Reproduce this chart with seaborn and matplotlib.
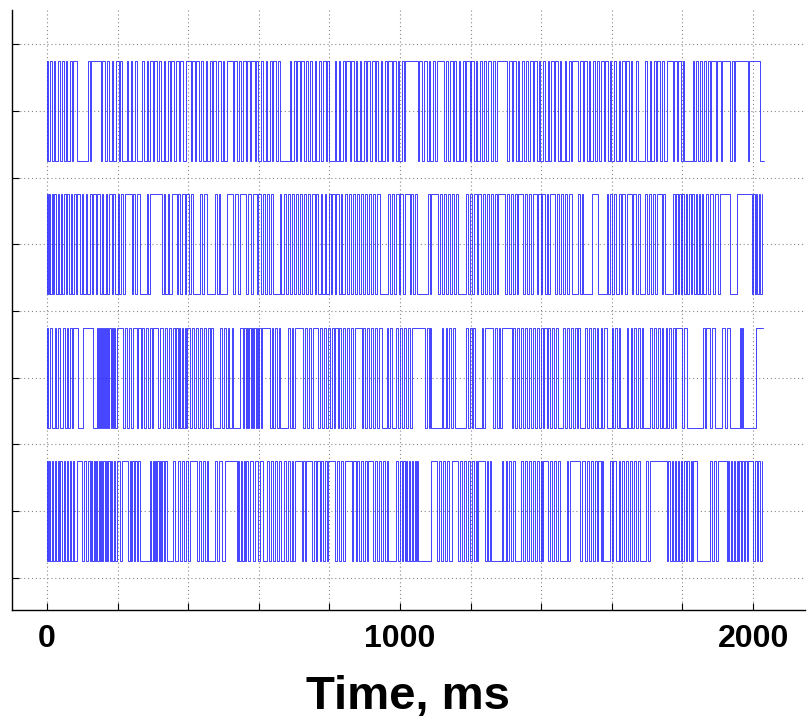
import matplotlib
matplotlib.use("Agg")
import matplotlib.pyplot as plt
import seaborn as sns
import pandas as pd

# transition times (ms) of the four binary traces, top to bottom
trace_1 = [0, 3, 9, 13, 21, 24, 30, 38, 42, 47, 55, 58, 66, 72, 75, 84,
           117, 121, 124,
           153, 156, 163, 171, 175, 184, 187, 196, 203, 206, 213, 226, 230, 238, 241, 249, 256, 270, 274,
           283, 286, 292, 301, 304, 313, 318, 322, 331, 335, 343, 349, 352, 361, 366, 374, 377, 386, 393,
           407, 410, 419, 423, 431, 435, 441, 450, 453, 462, 468, 471, 480, 484, 492, 498, 502, 511, 527,
           530, 538, 543, 550, 554, 563, 567, 575, 579, 588, 593, 597, 606, 611, 619, 622, 631, 637, 641,
           650, 653, 659,
           688, 691, 699, 705, 709, 717, 720, 729, 735, 738, 746, 751, 759, 763, 771, 776, 781, 789, 793, 799,
           815, 819, 827, 831, 839, 845, 848, 857, 861, 869, 874, 878, 886, 890, 898, 904, 907, 916, 920,
           928, 933, 937, 946, 950, 958, 963, 967, 976, 980, 988, 993, 997, 1006, 1010, 1014,
           1051, 1055, 1063, 1067, 1075, 1081, 1085, 1093, 1098, 1105,
           1125, 1129, 1137, 1141, 1149, 1154, 1158, 1167, 1171, 1179, 1184, 1188, 1197, 1201, 1209, 1214,
           1218, 1227, 1231, 1239, 1244, 1248, 1257, 1262, 1270, 1276,
           1304, 1308, 1316, 1320, 1328, 1333, 1337, 1346, 1350, 1358, 1363, 1367, 1376, 1380, 1388, 1393,
           1397, 1406, 1410, 1418, 1423, 1427, 1436, 1440, 1448, 1453, 1457, 1466, 1470, 1478, 1484, 1487,
           1505, 1509, 1517, 1521, 1529, 1534, 1538, 1547, 1551, 1559, 1564, 1568, 1577, 1581, 1589, 1594,
           1598, 1607, 1611, 1619, 1624, 1628, 1637, 1641, 1649, 1654, 1658, 1667, 1673,
           1695, 1699, 1707, 1711, 1719, 1724, 1728, 1737, 1741, 1749, 1755,
           1772, 1776, 1784, 1788, 1796, 1801, 1805,
           1830, 1833, 1839, 1843, 1850, 1854, 1861, 1866, 1872, 1877, 1880,
           1895, 1898, 1908, 1912,
           1935, 1939, 1945, 1948,
           1985, 1988,
           2020]

trace_2 = [0, 2, 6, 10, 13, 18, 21, 26, 30, 33, 39, 44, 47, 53, 58, 62, 68, 71, 77, 83, 86, 93, 99, 103,
           110, 114, 121, 127, 131, 138, 142, 149, 155, 159, 166, 171, 175, 183, 188, 192, 200, 205, 210,
           216, 221,
           240, 245, 249, 256, 263,
           282, 287, 292,
           325, 331, 335, 342, 347, 353,
           367, 372, 378, 383, 390, 395, 401, 407, 414,
           433, 438, 445, 452,
           476, 481, 486, 490, 509,
           528, 533, 540, 547,
           565, 570, 577, 584,
           594, 599, 606, 611, 617, 622, 629, 635, 641,
           660, 664, 671, 676, 682, 688, 693, 700, 705, 711, 717, 722, 729, 733, 740, 746, 751, 758, 762,
           769, 775, 780, 787, 791, 798, 804, 808, 816, 820, 827, 832, 837, 844, 849, 855, 861, 866, 872,
           877, 884, 890, 894, 901, 906, 912, 918, 923, 930, 936, 943,
           967, 972, 978, 984, 989, 996, 1001, 1008, 1014,
           1028, 1032, 1036, 1041, 1047,
           1080, 1085, 1089,
           1108, 1113, 1119, 1125, 1130, 1137, 1142, 1148, 1154, 1159, 1165,
           1188, 1193, 1199, 1205, 1210, 1217, 1222, 1228, 1234, 1240, 1245, 1251, 1257, 1262, 1269, 1274,
           1278,
           1297, 1302, 1308, 1313, 1319, 1325, 1330, 1335,
           1349, 1354, 1360, 1366, 1371, 1377,
           1387, 1392, 1398, 1403, 1410, 1415, 1420, 1425,
           1439, 1444, 1450, 1455, 1462, 1467, 1473, 1479, 1486,
           1505, 1510, 1515, 1519, 1543,
           1561, 1585, 1590, 1596, 1601, 1607, 1613, 1619, 1625, 1630, 1636, 1642,
           1656, 1661, 1667, 1673, 1680,
           1694, 1699, 1705, 1711, 1716, 1722, 1727,
           1741, 1746, 1750,
           1774, 1779, 1783, 1787, 1791, 1796, 1800, 1805, 1810, 1814, 1819, 1823, 1828, 1833, 1837, 1842,
           1846, 1851, 1855, 1859, 1866, 1872, 1879, 1886, 1893, 1900, 1906,
           1934, 1953, 1996, 2000, 2004, 2008, 2012, 2016, 2020, 2024]

trace_3 = [0, 4, 8, 13, 23, 27, 31, 37, 46, 52, 56, 61, 66, 70, 75, 89, 103, 131,
           141, 144, 147, 150, 153, 156, 159, 162, 165, 168, 171, 174, 177, 180, 184, 188, 191, 194, 197,
           216, 221, 227, 232, 238, 244, 254, 259, 265, 270, 276, 281, 287, 292, 297, 301,
           315, 321, 329, 334, 340, 345, 351, 358, 362, 366, 370, 374, 378, 382, 386, 390, 393, 396,
           405, 411, 416, 422, 428, 433, 439, 445, 450, 456, 461, 466, 471,
           490, 495, 501, 506, 512, 517, 523, 528, 547,
           556, 559, 563, 566, 570, 573, 577, 580, 584, 587, 591, 594, 598, 601, 605, 608,
           631, 636, 641, 647, 652, 656, 660,
           683, 688, 694, 698, 702,
           726, 731, 737, 742, 748, 754,
           768, 773, 779, 784, 790, 795, 801, 806, 812, 817, 823, 828, 834, 839, 845, 850, 856, 861, 867, 872,
           891, 896, 902, 907, 913, 918, 924, 929, 935, 940, 948,
           962, 967, 971, 976,
           990, 995, 1001, 1006, 1012, 1017, 1023, 1028, 1033,
           1070, 1075, 1081, 1085, 1089,
           1118, 1123, 1129, 1134, 1140, 1145, 1150, 1155,
           1188, 1193, 1199, 1204, 1208, 1212,
           1231, 1236, 1240,
           1264, 1269, 1274, 1279, 1284, 1288,
           1316, 1321, 1327, 1332, 1338, 1343, 1349, 1354, 1360, 1365, 1371, 1376, 1382, 1387, 1393, 1398,
           1404, 1409, 1415, 1420, 1426, 1431, 1437, 1442, 1448,
           1462, 1467, 1473, 1478, 1484, 1489, 1495, 1500, 1505, 1510,
           1524, 1529, 1535, 1540, 1546, 1551, 1557, 1562, 1568, 1573, 1579, 1585,
           1599, 1604, 1610, 1615, 1620, 1623,
           1642, 1647, 1653, 1658, 1664, 1669, 1675, 1680, 1685, 1689,
           1708, 1713, 1719, 1724, 1730, 1735, 1741, 1746, 1752, 1757, 1763, 1768, 1774, 1779, 1783,
           1798, 1805, 1812,
           1859, 1863, 1868, 1878, 1884, 1892,
           1911, 1920, 1927, 1934,
           1963, 1965, 1969, 1972,
           2008]

trace_4 = [0, 3, 7, 10, 15, 18, 23, 26, 31, 35, 38, 44, 47, 52, 56, 60, 65, 69, 73, 78, 84,
           98, 104, 110, 116, 122,
           125, 128, 132, 135, 139, 142, 146, 149, 153, 156, 160, 163, 167, 170, 174, 178, 181, 185, 189, 193,
           199, 206, 212,
           230, 234, 238, 242, 246, 250, 254, 258, 263,
           292, 295, 299, 302, 306, 309, 313, 316, 320, 323, 327, 331, 335, 339,
           358, 364, 370, 376, 382, 388, 394, 400, 405,
           424, 430, 436, 441, 447, 452, 457,
           476, 482, 488, 495, 504, 537,
           541, 545, 549, 553, 557, 561, 565, 570, 575,
           584, 590, 597, 603,
           611, 622, 628, 634, 640, 646, 652, 658, 664, 670, 676, 682, 688, 694, 698, 702,
           721, 726, 731, 735,
           750, 755, 761, 766, 772, 777, 783, 788, 793, 797,
           816, 821, 827, 832, 838, 844,
           863, 868, 874, 879, 885, 890, 896, 901, 906, 910,
           924, 929, 935, 940, 946, 951, 957, 962, 967,
           990, 995, 1000, 1005, 1009, 1013, 1017, 1021, 1025, 1029, 1033, 1037, 1041, 1045, 1049, 1052,
           1089, 1104, 1110, 1116, 1122, 1128, 1134, 1140, 1146,
           1165, 1170, 1176, 1181, 1187, 1192, 1198, 1203, 1209, 1214, 1218, 1221,
           1240, 1245, 1250, 1255, 1259,
           1288, 1293, 1299, 1304, 1310, 1315, 1320, 1325,
           1344, 1349, 1355, 1360, 1366, 1371, 1377, 1382, 1388, 1393, 1399, 1403, 1406,
           1420, 1425, 1431, 1436, 1442, 1447, 1453,
           1472, 1476, 1481,
           1510, 1514, 1524, 1529, 1535, 1540, 1546, 1551, 1557, 1562, 1568, 1572, 1576,
           1595, 1600, 1604, 1613, 1619, 1624, 1630, 1635, 1641, 1646, 1652, 1657, 1663, 1668, 1674, 1680,
           1698, 1703, 1708, 1755,
           1760, 1764, 1769, 1773, 1778, 1782, 1787, 1791, 1796, 1800, 1805, 1809, 1814, 1818, 1823, 1827, 1831,
           1840, 1878, 1884, 1890, 1896, 1901, 1925,
           1929, 1933, 1937, 1941, 1945, 1949, 1953, 1957, 1961, 1965, 1969, 1973, 1977, 1982,
           1986, 2000, 2005, 2010, 2015, 2020, 2024]

end_times = [2030, 2026, 2028, 2026]
tick_labels = {0: "0", 1000: "1000", 2000: "2000"}

sns.set_theme(style="white")
plt.rcParams["font.family"] = ["Liberation Sans", "DejaVu Sans"]
plt.rcParams["text.color"] = "black"
plt.rcParams["axes.labelcolor"] = "black"
plt.rcParams["xtick.color"] = "black"
plt.rcParams["ytick.color"] = "black"

fig = plt.figure(figsize=(8.07, 7.2), dpi=100)
ax = fig.add_axes([12 / 807, 110 / 720, 793 / 807, 600 / 720])

traces = [trace_1, trace_2, trace_3, trace_4]
for k, (times, t_end) in enumerate(zip(traces, end_times)):
    low = 1.25 + 2 * (3 - k)
    high = low + 1.5
    xs = [0]
    ys = [low]
    for i, t in enumerate(times):
        xs.append(t)
        ys.append(high if i % 2 == 0 else low)
    xs.append(t_end)
    ys.append(ys[-1])
    df = pd.DataFrame({"t": xs, "y": ys})
    sns.lineplot(data=df, x="t", y="y", estimator=None, sort=False,
                 drawstyle="steps-post", color="#2020ff", linewidth=0.7, alpha=0.85, ax=ax)

ax.set_xlim(-99, 2147)
ax.set_ylim(0.52, 9.51)
ax.set_xticks(range(0, 2001, 200))
ax.set_xticklabels([tick_labels.get(v, "") for v in range(0, 2001, 200)])
ax.set_yticks(range(1, 10))
ax.set_yticklabels([])
ax.grid(True, color="#888888", linestyle=(0, (1, 2.5)), linewidth=0.8)
for s in ["top", "right"]:
    ax.spines[s].set_visible(False)
for s in ["left", "bottom"]:
    ax.spines[s].set_color("black")
    ax.spines[s].set_linewidth(1.0)
ax.tick_params(direction="in", length=5, width=0.8, color="black", left=True, bottom=True, pad=10)
for lab in ax.get_xticklabels():
    lab.set_fontsize(23)
    lab.set_fontweight("bold")
    lab.set_color("black")
ax.set_ylabel("")
ax.set_xlabel("Time, ms", fontsize=34, fontweight="bold", labelpad=15, color="black")

fig.savefig("out.png", dpi=100)
